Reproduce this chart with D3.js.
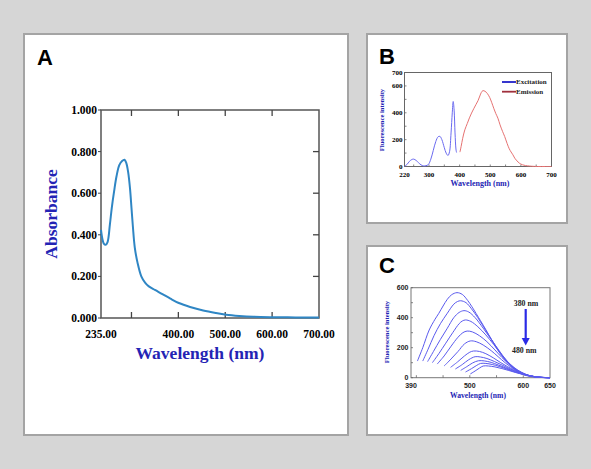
<!DOCTYPE html>
<html><head><meta charset="utf-8">
<script src="https://cdn.jsdelivr.net/npm/d3@7"></script>
<style>body{margin:0;background:#d6d6d6}svg{display:block}</style>
</head><body>
<script>
// ---------- DATA ----------
// Panel A: absorbance spectrum
const absWavelength = [235,238,241,245,249,254,258,263,268,274,280,285,289,293,297,300,303,307,313,321,329,337,350,366,383,401,425,453,480,502,530,560,600,650,700];
const absValues     = [0.424,0.38,0.358,0.352,0.365,0.45,0.53,0.61,0.68,0.735,0.755,0.761,0.745,0.70,0.62,0.53,0.44,0.34,0.265,0.20,0.17,0.152,0.135,0.115,0.093,0.072,0.053,0.036,0.024,0.016,0.010,0.006,0.004,0.003,0.002];
const absXTickLabels = [235,400,500,600,700];
const absXTicks = [300,400,500,600];
const absYTicks = [0,0.2,0.4,0.6,0.8,1.0];

// Panel B: excitation / emission
const excWavelength = [220,228,236,244,250,258,266,274,282,290,298,306,314,322,330,336,342,350,356,362,367,372,376,379,382,385,388,390];
const excValues     = [2,15,38,52,55,45,28,12,5,6,15,55,120,185,222,224,200,140,100,82,110,250,400,484,420,250,130,104];
const emWavelength  = [401,405,410,417,425,432,439,446,453,460,466,471,476,483,490,498,505,512,518,525,532,540,547,555,562,568,574,580,587,595,605,615,622,635,655,680,700];
const emValues      = [107,150,210,273,320,362,398,430,460,490,525,552,565,560,545,515,475,430,395,360,310,262,224,172,132,108,87,62,42,25,13,7,5,2,0,0,0];
const bXTickLabels = [220,300,400,500,600,700];
const bYTickLabels = [0,200,400,600,700];
const bLegend = ["Excitation","Emission"];

// Panel C: emission spectra for excitation 380 -> 480 nm
const cSeriesNames = ["380","390","400","410","420","430","440","450","460","470","480"];
const cWavelengths = [
  [402,412,424,435,442,450,458,466,476,486,496,504,520,530,541,553,566,578,590,602,615,630,650],
  [412,422,433,445,458,470,477,483,493,503,515,530,545,558,570,582,595,610,630,650],
  [421,432,445,458,470,480,489,498,510,525,540,555,568,580,593,608,628,650],
  [430,442,455,468,480,486,492,502,515,530,545,558,570,583,596,610,630,650],
  [439,452,465,478,487,495,505,518,532,547,560,572,585,598,612,630,650],
  [452,465,478,490,501,512,525,540,553,566,578,590,605,625,650],
  [464,477,490,500,507,518,530,545,558,570,583,596,612,630,650],
  [473,486,498,510,520,532,546,560,573,586,600,615,635,650],
  [483,495,505,516,527,540,553,566,579,592,606,622,650],
  [492,503,512,520,530,542,555,568,581,594,608,625,650],
  [501,510,518,525,535,547,560,573,586,599,614,632,650]
];
const cValues = [
  [111,200,318,390,429,478,523,553,567,555,515,473,380,320,251,180,118,72,40,18,7,2,0],
  [111,190,280,360,430,490,508,513,500,460,400,315,230,160,105,65,35,14,3,0],
  [107,175,255,330,400,435,447,438,400,330,255,180,118,72,40,16,3,0],
  [100,160,230,300,360,378,385,375,340,285,220,160,110,68,37,16,3,0],
  [91,145,210,270,300,311,305,280,240,185,135,95,60,33,14,3,0],
  [78,125,175,225,245,240,218,180,140,100,68,42,20,5,0],
  [69,105,145,170,178,175,160,130,100,75,50,30,13,3,0],
  [58,88,120,140,138,128,108,85,62,42,24,10,2,0],
  [49,75,98,113,112,102,85,67,48,31,17,6,0],
  [38,60,80,95,95,88,75,59,42,28,15,5,0],
  [25,45,64,78,78,72,61,48,34,22,11,3,0]
];
const cXTickLabels = [390,500,600,650];
const cYTickLabels = [0,200,400,600];
const cArrowLabels = ["380 nm","480 nm"];

// ---------- DRAW ----------
const W = 591, H = 469;
const svg = d3.select("body").append("svg").attr("width", W).attr("height", H);
svg.append("rect").attr("width", W).attr("height", H).attr("fill", "#d6d6d6");

const titleBlue = "#2424b4";
const serif = "'Liberation Serif','Times New Roman',serif";
const sans = "'Liberation Sans',Arial,sans-serif";

function panel(x0, y0, x1, y1) {
  svg.append("rect").attr("x", x0).attr("y", y0).attr("width", x1 - x0).attr("height", y1 - y0)
    .attr("fill", "#ffffff").attr("stroke", "#a4a4a4").attr("stroke-width", 2);
}
panel(24, 34, 348, 435);
panel(367, 34, 567, 223);
panel(367, 246, 567, 435);

function letter(t, x, y) {
  svg.append("text").attr("x", x).attr("y", y).text(t)
    .attr("font-family", sans).attr("font-weight", "bold").attr("font-size", 22).attr("fill", "#000");
}
letter("A", 37, 65); letter("B", 379, 64); letter("C", 379, 273);

// ----- Panel A -----
{
  const x = d3.scaleLinear().domain([235, 700]).range([101, 319]);
  const y = d3.scaleLinear().domain([0, 1]).range([318, 110]);
  const g = svg.append("g");
  g.append("rect").attr("x", 101).attr("y", 110).attr("width", 218).attr("height", 208)
    .attr("fill", "none").attr("stroke", "#555", ).attr("stroke-width", 1.5);
  absXTicks.forEach(v => {
    g.append("line").attr("x1", x(v)).attr("x2", x(v)).attr("y1", 318).attr("y2", 312).attr("stroke", "#444").attr("stroke-width", 1.3);
    g.append("line").attr("x1", x(v)).attr("x2", x(v)).attr("y1", 110).attr("y2", 116).attr("stroke", "#444").attr("stroke-width", 1.3);
  });
  absYTicks.slice(1, -1).forEach(v => {
    g.append("line").attr("x1", 319).attr("x2", 313).attr("y1", y(v)).attr("y2", y(v)).attr("stroke", "#444").attr("stroke-width", 1.3);
  });
  absYTicks.forEach(v => {
    g.append("line").attr("x1", 101).attr("x2", 98).attr("y1", y(v)).attr("y2", y(v)).attr("stroke", "#444").attr("stroke-width", 1);
    g.append("text").attr("x", 97).attr("y", y(v)).attr("dy", "0.35em").attr("text-anchor", "end")
      .attr("font-family", serif).attr("font-weight", "bold").attr("font-size", 11.5).text(d3.format(".3f")(v));
  });
  absXTickLabels.forEach(v => {
    g.append("text").attr("x", x(v)).attr("y", 338).attr("text-anchor", "middle")
      .attr("font-family", serif).attr("font-weight", "bold").attr("font-size", 11.5).text(d3.format(".2f")(v));
  });
  const line = d3.line().x((d, i) => x(absWavelength[i])).y(d => y(d)).curve(d3.curveCatmullRom);
  g.append("path").attr("d", line(absValues)).attr("fill", "none").attr("stroke", "#2f86c4").attr("stroke-width", 2);
  g.append("text").attr("x", 200).attr("y", 358.5).attr("text-anchor", "middle")
    .attr("font-family", serif).attr("font-weight", "bold").attr("font-size", 17.5).attr("fill", titleBlue).text("Wavelength (nm)");
  g.append("text").attr("transform", "translate(57,214) rotate(-90)").attr("text-anchor", "middle")
    .attr("font-family", serif).attr("font-weight", "bold").attr("font-size", 17.5).attr("fill", titleBlue).text("Absorbance");
}

// ----- Panel B -----
{
  const x = d3.scaleLinear().domain([220, 700]).range([404.5, 551.5]);
  const y = d3.scaleLinear().domain([0, 700]).range([166.5, 72.5]);
  const g = svg.append("g");
  g.append("rect").attr("x", 404.5).attr("y", 72.5).attr("width", 147).attr("height", 94)
    .attr("fill", "none").attr("stroke", "#666").attr("stroke-width", 1);
  d3.range(0, 701, 100).forEach(v => {
    g.append("line").attr("x1", 404.5).attr("x2", 406.5).attr("y1", y(v)).attr("y2", y(v)).attr("stroke", "#666").attr("stroke-width", 0.8);
  });
  d3.range(250, 700, 50).forEach(v => {
    g.append("line").attr("x1", x(v)).attr("x2", x(v)).attr("y1", 166.5).attr("y2", 164.5).attr("stroke", "#666").attr("stroke-width", 0.8);
  });
  bYTickLabels.forEach(v => {
    g.append("text").attr("x", 402.5).attr("y", y(v)).attr("dy", "0.35em").attr("text-anchor", "end")
      .attr("font-family", serif).attr("font-weight", "bold").attr("font-size", 7).text(v);
  });
  bXTickLabels.forEach(v => {
    g.append("text").attr("x", x(v)).attr("y", 176.5).attr("text-anchor", "middle")
      .attr("font-family", serif).attr("font-weight", "bold").attr("font-size", 7).text(v);
  });
  const lineExc = d3.line().x((d, i) => x(excWavelength[i])).y(d => y(d)).curve(d3.curveCatmullRom);
  const lineEm = d3.line().x((d, i) => x(emWavelength[i])).y(d => y(d)).curve(d3.curveCatmullRom);
  g.append("path").attr("d", lineExc(excValues)).attr("fill", "none").attr("stroke", "#6a6af0").attr("stroke-width", 1);
  g.append("path").attr("d", lineEm(emValues)).attr("fill", "none").attr("stroke", "#e67272").attr("stroke-width", 1);
  const legCol = ["#2020c8", "#a0303c"];
  bLegend.forEach((t, i) => {
    const yy = 82 + i * 9.7;
    g.append("line").attr("x1", 502).attr("x2", 516).attr("y1", yy).attr("y2", yy).attr("stroke", legCol[i]).attr("stroke-width", 1.8);
    g.append("text").attr("x", 516).attr("y", yy + 2.4).attr("font-family", serif).attr("font-weight", "bold")
      .attr("font-size", 7).attr("fill", "#222").text(t);
  });
  g.append("text").attr("x", 480).attr("y", 186).attr("text-anchor", "middle")
    .attr("font-family", serif).attr("font-weight", "bold").attr("font-size", 8).attr("fill", titleBlue).text("Wavelength (nm)");
  g.append("text").attr("transform", "translate(384,120) rotate(-90)").attr("text-anchor", "middle")
    .attr("font-family", serif).attr("font-weight", "bold").attr("font-size", 6.6).attr("fill", titleBlue).text("Fluorescence intensity");
}

// ----- Panel C -----
{
  const x = d3.scaleLinear().domain([390, 650]).range([411, 550]);
  const y = d3.scaleLinear().domain([0, 600]).range([377.7, 287.7]);
  const g = svg.append("g");
  g.append("rect").attr("x", 411).attr("y", 287.7).attr("width", 139).attr("height", 90)
    .attr("fill", "none").attr("stroke", "#777").attr("stroke-width", 1);
  d3.range(0, 601, 100).forEach(v => {
    g.append("line").attr("x1", 411).attr("x2", 413).attr("y1", y(v)).attr("y2", y(v)).attr("stroke", "#666").attr("stroke-width", 0.8);
  });
  d3.range(400, 650, 50).forEach(v => {
    g.append("line").attr("x1", x(v)).attr("x2", x(v)).attr("y1", 377.7).attr("y2", 375.2).attr("stroke", "#666").attr("stroke-width", 0.8);
  });
  cYTickLabels.forEach(v => {
    g.append("text").attr("x", 408.5).attr("y", y(v)).attr("dy", "0.35em").attr("text-anchor", "end")
      .attr("font-family", sans).attr("font-weight", "bold").attr("font-size", 7).attr("fill", "#222").text(v);
  });
  cXTickLabels.forEach(v => {
    g.append("text").attr("x", x(v)).attr("y", 388.3).attr("text-anchor", "middle")
      .attr("font-family", sans).attr("font-weight", "bold").attr("font-size", 7).attr("fill", "#222").text(v);
  });
  cSeriesNames.forEach((n, k) => {
    const line = d3.line().x((d, i) => x(cWavelengths[k][i])).y(d => y(d)).curve(d3.curveCatmullRom);
    g.append("path").attr("d", line(cValues[k])).attr("fill", "none").attr("stroke", "#5a5aee").attr("stroke-width", 1);
  });
  g.append("line").attr("x1", 525.7).attr("x2", 525.7).attr("y1", 309).attr("y2", 339).attr("stroke", "#2a2ae6").attr("stroke-width", 2.2);
  g.append("path").attr("d", "M521.7,338 L529.7,338 L525.7,345.5 Z").attr("fill", "#2a2ae6");
  g.append("text").attr("x", 526).attr("y", 306).attr("text-anchor", "middle")
    .attr("font-family", serif).attr("font-weight", "bold").attr("font-size", 7.8).attr("fill", "#222").text(cArrowLabels[0]);
  g.append("text").attr("x", 524.3).attr("y", 352.5).attr("text-anchor", "middle")
    .attr("font-family", serif).attr("font-weight", "bold").attr("font-size", 7.8).attr("fill", "#222").text(cArrowLabels[1]);
  g.append("text").attr("x", 478).attr("y", 398).attr("text-anchor", "middle")
    .attr("font-family", serif).attr("font-weight", "bold").attr("font-size", 7.6).attr("fill", titleBlue).text("Wavelength (nm)");
  g.append("text").attr("transform", "translate(389,332) rotate(-90)").attr("text-anchor", "middle")
    .attr("font-family", serif).attr("font-weight", "bold").attr("font-size", 6.6).attr("fill", titleBlue).text("Fluorescence intensity");
}
</script>
</body></html>
